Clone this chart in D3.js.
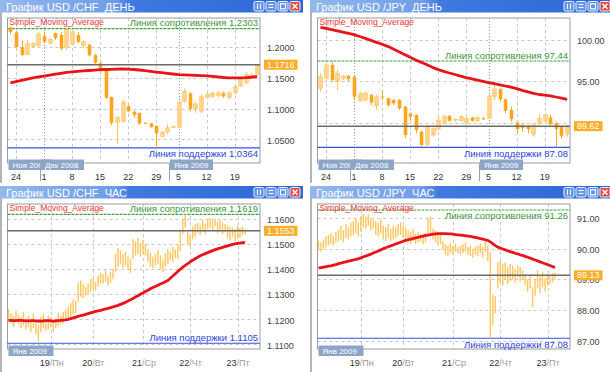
<!DOCTYPE html>
<html>
<head>
<meta charset="utf-8">
<script src="https://cdn.jsdelivr.net/npm/d3@7"></script>
<style>
  body { margin: 0; background: #fff; }
  svg { display: block; font-family: "Liberation Sans", Arial, sans-serif; }
</style>
</head>
<body>
<svg id="chart" width="610" height="372"></svg>
<script>
// ---- USD/CHF daily ----
const chfDayOpen  = [1.2320,1.2240,1.2000,1.1880,1.2010,1.2030,1.2180,1.2060,1.2230,1.2200,1.1990,1.2050,1.2200,1.2030,1.2040,1.1870,1.1740,1.1620,1.1190,1.0780,1.0790,1.1040,1.0950,1.0930,1.0770,1.0760,1.0720,1.0550,1.0620,1.0700,1.0700,1.1120,1.1250,1.1000,1.0960,1.1180,1.1200,1.1210,1.1260,1.1180,1.1260,1.1370,1.1420,1.1520,1.1560];
const chfDayHigh  = [1.2335,1.2250,1.2110,1.2115,1.2085,1.2250,1.2250,1.2150,1.2240,1.2250,1.2310,1.2280,1.2250,1.2110,1.2060,1.1890,1.1760,1.1630,1.1200,1.0880,1.1150,1.1060,1.0970,1.0940,1.0780,1.0770,1.0730,1.0640,1.0750,1.0720,1.1130,1.1330,1.1270,1.1110,1.1230,1.1260,1.1280,1.1290,1.1280,1.1280,1.1380,1.1500,1.1600,1.1580,1.1730];
const chfDayLow   = [1.2210,1.1990,1.1860,1.1870,1.2000,1.2000,1.2060,1.2040,1.2120,1.1950,1.1960,1.2030,1.2070,1.1980,1.1850,1.1730,1.1590,1.1160,1.0730,1.0430,1.0770,1.0940,1.0850,1.0740,1.0750,1.0690,1.0364,1.0530,1.0580,1.0690,1.0690,1.1100,1.0960,1.0930,1.0930,1.1160,1.1180,1.1190,1.1180,1.1150,1.1230,1.1350,1.1400,1.1500,1.1540];
const chfDayClose = [1.2250,1.2005,1.1875,1.2060,1.2065,1.2215,1.2090,1.2130,1.2150,1.1980,1.2290,1.2250,1.2090,1.2090,1.1870,1.1750,1.1620,1.1180,1.0770,1.0855,1.1110,1.0960,1.0900,1.0760,1.0760,1.0700,1.0600,1.0620,1.0690,1.0710,1.1100,1.1280,1.1000,1.1080,1.1200,1.1240,1.1250,1.1260,1.1200,1.1260,1.1360,1.1480,1.1560,1.1550,1.1716];
const chfDayMA    = [1.1420,1.1440,1.1460,1.1482,1.1502,1.1517,1.1532,1.1547,1.1562,1.1577,1.1592,1.1600,1.1608,1.1615,1.1622,1.1629,1.1636,1.1638,1.1641,1.1644,1.1647,1.1645,1.1638,1.1630,1.1620,1.1608,1.1597,1.1586,1.1575,1.1565,1.1555,1.1551,1.1547,1.1543,1.1538,1.1534,1.1527,1.1518,1.1508,1.1503,1.1502,1.1502,1.1505,1.1512,1.1523];
const chfDayTicks = [1.05, 1.10, 1.15, 1.20];

// ---- USD/JPY daily ----
const jpyDayOpen  = [94.16,95.36,96.96,94.96,95.36,95.66,95.56,92.66,92.76,93.36,92.06,93.16,92.96,92.76,92.76,91.96,91.16,90.96,88.96,87.46,88.56,89.26,89.96,90.86,90.36,90.26,90.06,90.66,90.26,90.56,90.56,93.16,94.06,92.86,91.56,90.06,89.76,89.66,88.66,89.96,90.16,90.66,89.96,89.56,88.66];
const jpyDayHigh  = [95.96,97.16,97.36,96.36,95.76,95.76,95.66,93.76,93.76,93.46,93.36,93.96,93.06,92.86,92.86,92.06,91.26,91.06,89.06,89.76,89.76,90.76,90.96,90.96,90.56,90.96,90.76,90.76,90.76,90.76,93.56,94.56,94.16,92.96,91.96,90.16,89.96,89.76,89.96,90.96,91.16,90.96,90.16,89.56,89.76];
const jpyDayLow   = [93.76,94.96,94.96,93.96,95.16,94.96,92.76,92.56,92.56,92.16,91.56,92.76,91.96,92.16,91.56,88.16,90.36,88.76,87.08,87.08,88.36,89.16,89.86,90.16,90.16,90.16,89.76,90.16,90.16,90.36,90.46,92.76,92.56,91.16,90.16,88.76,88.96,88.76,88.36,89.76,89.96,89.56,87.16,88.16,88.36];
const jpyDayClose = [95.56,96.96,95.16,95.96,95.66,95.26,93.16,93.56,93.56,92.46,93.16,93.06,92.16,92.36,91.76,88.56,90.76,89.16,87.36,89.56,89.36,90.36,90.76,90.26,90.46,90.76,90.56,90.26,90.66,90.46,93.26,94.06,92.86,91.46,90.46,89.26,89.36,89.26,89.76,90.56,90.96,89.86,89.26,88.46,89.62];
const jpyDayMA    = [101.48,101.35,101.20,101.05,100.90,100.75,100.60,100.38,100.15,99.92,99.68,99.45,99.20,98.88,98.55,98.22,97.88,97.56,97.28,96.98,96.68,96.40,96.20,96.00,95.82,95.62,95.44,95.30,95.15,95.00,94.85,94.72,94.58,94.44,94.30,94.12,93.92,93.74,93.55,93.42,93.35,93.25,93.12,92.98,92.84];
const jpyDayTicks = [90, 95, 100];

// ---- USD/CHF hourly ----
const chfHourLow  = [1.1195,1.1185,1.1170,1.1190,1.1180,1.1165,1.1175,1.1160,1.1170,1.1150,1.1165,1.1140,1.1111,1.1150,1.1165,1.1155,1.1160,1.1170,1.1150,1.1165,1.1175,1.1180,1.1185,1.1195,1.1205,1.1210,1.1220,1.1225,1.1270,1.1290,1.1285,1.1295,1.1300,1.1310,1.1320,1.1315,1.1330,1.1340,1.1345,1.1350,1.1335,1.1345,1.1360,1.1390,1.1410,1.1420,1.1405,1.1415,1.1400,1.1385,1.1440,1.1455,1.1460,1.1450,1.1465,1.1455,1.1430,1.1410,1.1405,1.1415,1.1420,1.1400,1.1388,1.1410,1.1420,1.1435,1.1430,1.1445,1.1440,1.1470,1.1540,1.1565,1.1500,1.1490,1.1520,1.1530,1.1545,1.1535,1.1550,1.1540,1.1560,1.1565,1.1555,1.1570,1.1545,1.1555,1.1540,1.1550,1.1525,1.1515,1.1530,1.1510,1.1520,1.1525,1.1535,1.1540];
const chfHourHigh = [1.1240,1.1225,1.1215,1.1235,1.1220,1.1210,1.1230,1.1205,1.1215,1.1200,1.1225,1.1195,1.1180,1.1210,1.1220,1.1200,1.1215,1.1210,1.1195,1.1205,1.1225,1.1215,1.1230,1.1240,1.1250,1.1265,1.1280,1.1275,1.1345,1.1355,1.1340,1.1330,1.1345,1.1360,1.1365,1.1350,1.1375,1.1385,1.1380,1.1395,1.1375,1.1390,1.1400,1.1460,1.1485,1.1475,1.1460,1.1470,1.1450,1.1440,1.1520,1.1510,1.1525,1.1505,1.1515,1.1500,1.1480,1.1465,1.1450,1.1460,1.1475,1.1455,1.1440,1.1465,1.1480,1.1470,1.1490,1.1480,1.1500,1.1555,1.1600,1.1619,1.1550,1.1540,1.1570,1.1580,1.1585,1.1575,1.1595,1.1580,1.1600,1.1605,1.1595,1.1600,1.1590,1.1595,1.1585,1.1580,1.1575,1.1570,1.1565,1.1560,1.1575,1.1565,1.1570,1.1560];
const chfHourMA   = [1.1196,1.1196,1.1195,1.1195,1.1196,1.1196,1.1195,1.1194,1.1194,1.1195,1.1195,1.1194,1.1193,1.1193,1.1194,1.1195,1.1195,1.1194,1.1193,1.1194,1.1195,1.1196,1.1197,1.1198,1.1200,1.1203,1.1206,1.1209,1.1212,1.1215,1.1217,1.1220,1.1223,1.1226,1.1229,1.1232,1.1234,1.1236,1.1239,1.1242,1.1244,1.1247,1.1250,1.1253,1.1256,1.1260,1.1264,1.1268,1.1273,1.1278,1.1283,1.1289,1.1294,1.1300,1.1305,1.1311,1.1316,1.1322,1.1327,1.1331,1.1336,1.1341,1.1345,1.1350,1.1355,1.1364,1.1373,1.1382,1.1391,1.1400,1.1408,1.1415,1.1422,1.1429,1.1436,1.1442,1.1448,1.1454,1.1458,1.1462,1.1466,1.1470,1.1474,1.1478,1.1481,1.1484,1.1487,1.1490,1.1493,1.1496,1.1499,1.1501,1.1503,1.1504,1.1506,1.1507];
const chfHourTicks = [1.11, 1.12, 1.13, 1.14, 1.15, 1.16];

// ---- USD/JPY hourly ----
const jpyHourLow  = [89.95,89.90,90.00,90.05,90.10,90.15,90.10,90.20,90.25,90.30,90.20,90.35,90.30,90.40,90.45,90.50,90.40,90.55,90.70,90.65,90.75,90.60,90.65,90.45,90.40,90.50,90.30,90.25,90.35,90.25,90.30,90.35,90.40,90.45,90.35,90.30,90.20,90.15,90.25,90.15,90.20,90.25,90.15,90.20,90.45,90.50,90.30,90.20,90.10,90.15,89.95,89.80,89.75,89.85,89.80,89.90,89.85,89.80,89.85,89.90,89.80,89.75,89.70,89.80,89.75,89.85,89.70,89.90,89.60,87.08,87.50,87.90,88.70,88.90,88.80,89.00,88.85,88.95,89.00,88.90,89.05,88.95,89.00,88.80,88.60,88.70,88.10,88.45,88.70,88.55,88.75,88.60,88.80,88.85,88.90,89.00];
const jpyHourHigh = [90.25,90.20,90.30,90.40,90.45,90.50,90.40,90.55,90.60,90.75,90.60,90.80,90.70,90.85,90.90,91.00,90.85,91.05,91.14,91.05,91.10,91.00,90.95,90.90,90.85,90.95,90.75,90.70,90.80,90.65,90.75,90.70,90.80,90.85,90.75,90.70,90.60,90.55,90.65,90.50,90.55,90.50,90.45,90.50,91.00,91.05,90.65,90.60,90.50,90.45,90.25,90.15,90.10,90.20,90.10,90.15,90.05,90.10,90.15,90.20,90.05,90.10,90.00,90.05,90.10,90.15,90.05,90.25,90.10,89.90,88.50,88.45,89.55,89.60,89.50,89.55,89.40,89.50,89.45,89.35,89.45,89.40,89.30,89.15,89.00,89.10,88.75,89.00,89.30,89.10,89.25,89.05,89.20,89.15,89.20,89.22];
const jpyHourMA   = [89.37,89.38,89.40,89.41,89.43,89.44,89.46,89.48,89.51,89.53,89.55,89.57,89.59,89.61,89.63,89.65,89.67,89.70,89.73,89.76,89.79,89.82,89.86,89.89,89.92,89.96,90.00,90.03,90.06,90.09,90.12,90.15,90.18,90.21,90.24,90.27,90.29,90.31,90.33,90.35,90.37,90.39,90.41,90.43,90.44,90.46,90.47,90.48,90.49,90.49,90.49,90.49,90.48,90.48,90.47,90.46,90.45,90.44,90.43,90.42,90.41,90.40,90.38,90.37,90.35,90.33,90.31,90.29,90.27,90.22,90.16,90.10,90.05,90.02,89.99,89.96,89.93,89.90,89.88,89.85,89.83,89.80,89.78,89.75,89.72,89.69,89.66,89.63,89.60,89.57,89.54,89.51,89.48,89.45,89.42,89.38];
const jpyHourTicks = [87, 88, 89, 90, 91];

// ---- time axis labels ----
const dayTickLabels = ["24", "1", "8", "15", "22", "29", "5", "12", "19"];
const dayTickIdx = [1, 6, 11, 16, 21, 26, 30, 35, 40];
const monthStartIdx = [6, 30];
const monthBoxLabels = ["Ноя 2008", "Дек 2008", "Янв 2009"];
const monthBoxIdx = [0, 6, 29];
const hourTickIdx = [17, 34, 54, 73, 92];
const hourTickDay = ["19", "20", "21", "22", "23"];
const hourTickWeekday = ["Пн", "Вт", "Ср", "Чт", "Пт"];

const panels = [
  {x: 0, y: 0, w: 303, h: 183, title: "График USD /CHF  ДЕНЬ", kind: "day",
   open: chfDayOpen, high: chfDayHigh, low: chfDayLow, close: chfDayClose, ma: chfDayMA,
   domain: [1.0117, 1.2476], ticks: chfDayTicks, fmt: ".4f", resist: 1.2303, support: 1.0364, last: 1.1716},
  {x: 310, y: 0, w: 300, h: 183, title: "График USD /JPY  ДЕНЬ", kind: "day",
   open: jpyDayOpen, high: jpyDayHigh, low: jpyDayLow, close: jpyDayClose, ma: jpyDayMA,
   domain: [85.2, 102.6], ticks: jpyDayTicks, fmt: ".2f", resist: 97.44, support: 87.08, last: 89.62},
  {x: 0, y: 186, w: 303, h: 186, title: "График USD /CHF  ЧАС", kind: "hour",
   high: chfHourHigh, low: chfHourLow, ma: chfHourMA,
   domain: [1.1082, 1.1660], ticks: chfHourTicks, fmt: ".4f", resist: 1.1619, support: 1.1105, last: 1.1553},
  {x: 310, y: 186, w: 300, h: 186, title: "График USD /JPY  ЧАС", kind: "hour",
   high: jpyHourHigh, low: jpyHourLow, ma: jpyHourMA,
   domain: [86.73, 91.455], ticks: jpyHourTicks, fmt: ".2f", resist: 91.26, support: 87.08, last: 89.13}
];

const F = {left: 7.5, right: 260, top: 18, bottom: 163};
const svg = d3.select("#chart");

// title bar gradient
const grad = svg.append("defs").append("linearGradient").attr("id", "tbar");
[[0, "#93b8ee"], [0.38, "#6f9ce8"], [0.43, "#4079df"], [1, "#2d67d6"]].forEach(s =>
  grad.append("stop").attr("offset", s[0]).attr("stop-color", s[1]));

function drawPanel(p) {
  const g = svg.append("g").attr("transform", `translate(${p.x},${p.y})`);
  g.append("rect").attr("width", p.w).attr("height", p.h).attr("fill", "#fff");
  g.append("line").attr("x1", 1).attr("x2", 1).attr("y1", 12).attr("y2", p.h)
    .attr("stroke", "#b4b4b4").attr("stroke-width", 2);

  // title bar + buttons
  g.append("rect").attr("width", p.w).attr("height", 12.5).attr("fill", "url(#tbar)");
  g.append("text").attr("x", 6).attr("y", 10.5).attr("fill", "#fff").attr("font-size", 11)
    .style("white-space", "pre").text(p.title);
  [254, 266, 278, 290].forEach((bx, k) => {
    g.append("rect").attr("x", bx).attr("y", 1.5).attr("width", 10).attr("height", 9.5).attr("rx", 1.5)
      .attr("fill", k === 3 ? "#e2483a" : "#5b8fe9").attr("stroke", "#eef4ff").attr("stroke-width", 1);
    const ic = g.append("g").attr("stroke", "#fff").attr("stroke-width", 1.2).attr("fill", "none");
    if (k === 0) { ic.append("line").attr("x1", bx + 3.5).attr("x2", bx + 3.5).attr("y1", 3.5).attr("y2", 9); ic.append("line").attr("x1", bx + 6.5).attr("x2", bx + 6.5).attr("y1", 3.5).attr("y2", 9); }
    if (k === 1) { ic.append("line").attr("x1", bx + 2.5).attr("x2", bx + 7.5).attr("y1", 4.5).attr("y2", 4.5); ic.append("line").attr("x1", bx + 2.5).attr("x2", bx + 7.5).attr("y1", 7.5).attr("y2", 7.5); }
    if (k === 2) { ic.append("rect").attr("x", bx + 2.5).attr("y", 3.8).attr("width", 5).attr("height", 5); }
    if (k === 3) { ic.append("path").attr("d", `M${bx + 2.5},3.8L${bx + 7.5},8.8M${bx + 7.5},3.8L${bx + 2.5},8.8`).attr("stroke-width", 1.6); }
  });

  const y = d3.scaleLinear().domain(p.domain).range([F.bottom, F.top]);
  const n = p.high.length;
  let xc, bw;
  if (p.kind === "day") {
    const xb = d3.scaleBand().domain(d3.range(n)).range([F.left, F.right]).paddingInner(0.36).paddingOuter(0.2);
    bw = xb.bandwidth();
    xc = i => xb(i) + bw / 2;
  } else {
    xc = d3.scaleLinear().domain([0, n - 1]).range([F.left + 1, 245]);
    bw = 1.4;
  }

  // grid
  g.append("g").selectAll("line").data(p.ticks).join("line")
    .attr("x1", F.left).attr("x2", F.right).attr("y1", d => Math.round(y(d)) + 0.5).attr("y2", d => Math.round(y(d)) + 0.5)
    .attr("stroke", "#c8c8c8").attr("stroke-dasharray", "3,3");
  const vIdx = p.kind === "day" ? dayTickIdx : hourTickIdx;
  g.append("g").selectAll("line").data(vIdx).join("line")
    .attr("x1", d => Math.round(xc(d)) + 0.5).attr("x2", d => Math.round(xc(d)) + 0.5)
    .attr("y1", F.top).attr("y2", F.bottom)
    .attr("stroke", d => p.kind === "day" && monthStartIdx.includes(d) ? "#8d93ab" : "#c8c8c8")
    .attr("stroke-dasharray", d => p.kind === "day" && monthStartIdx.includes(d) ? "1,2" : "3,3");

  // frame
  g.append("rect").attr("x", F.left).attr("y", F.top).attr("width", F.right - F.left).attr("height", F.bottom - F.top)
    .attr("fill", "none").attr("stroke", "#9c9c9c");

  // support / resistance
  const fmt = d3.format(p.fmt);
  const yr = y(p.resist), ys = y(p.support);
  g.append("line").attr("x1", F.left).attr("x2", F.right).attr("y1", yr).attr("y2", yr)
    .attr("stroke", "#3fa23f").attr("stroke-width", 1.2).attr("stroke-dasharray", "3,1");
  g.append("line").attr("x1", F.left).attr("x2", F.right).attr("y1", ys).attr("y2", ys)
    .attr("stroke", "#3553e0").attr("stroke-width", 1.2);
  g.append("text").attr("x", F.right - 2).attr("y", yr - 9 < F.top ? yr + 9.5 : yr - 2.5)
    .attr("text-anchor", "end").attr("font-size", 9.5).attr("fill", "#3c963c")
    .text("Линия сопротивления " + fmt(p.resist));
  g.append("text").attr("x", F.right - 2).attr("y", ys + 10.5 > F.bottom ? ys - 2.5 : ys + 9.5)
    .attr("text-anchor", "end").attr("font-size", 9.5).attr("fill", "#2a44dc")
    .text("Линия поддержки " + fmt(p.support));

  // price bars
  const idx = d3.range(n);
  if (p.kind === "day") {
    const up = i => p.close[i] >= p.open[i];
    g.append("g").selectAll("line").data(idx).join("line")
      .attr("x1", i => Math.round(xc(i)) + 0.5).attr("x2", i => Math.round(xc(i)) + 0.5)
      .attr("y1", i => y(p.high[i])).attr("y2", i => y(p.low[i]))
      .attr("stroke", i => up(i) ? "#ffc65c" : "#ffa51e");
    g.append("g").selectAll("rect").data(idx).join("rect")
      .attr("x", i => Math.round(xc(i)) + 0.5 - bw / 2).attr("width", bw)
      .attr("y", i => y(Math.max(p.open[i], p.close[i])))
      .attr("height", i => Math.max(1, Math.abs(y(p.open[i]) - y(p.close[i]))))
      .attr("fill", i => up(i) ? "#ffd58e" : "#ffa51e")
      .attr("stroke", i => up(i) ? "#ffc262" : "none").attr("stroke-width", 0.6);
  } else {
    g.append("g").selectAll("rect").data(idx).join("rect")
      .attr("x", i => xc(i) - bw / 2).attr("width", bw)
      .attr("y", i => y(p.high[i])).attr("height", i => Math.max(1, y(p.low[i]) - y(p.high[i])))
      .attr("fill", "#ffc65e");
  }

  // current price line
  const yl = y(p.last);
  g.append("line").attr("x1", F.left).attr("x2", F.right).attr("y1", yl).attr("y2", yl)
    .attr("stroke", "#6a6a6a").attr("stroke-width", 1.5);

  // moving average
  g.append("path").datum(p.ma)
    .attr("d", d3.line().x((d, i) => xc(i)).y(d => y(d)))
    .attr("fill", "none").attr("stroke", "#e8141c").attr("stroke-width", 2.8).attr("stroke-linejoin", "round");

  // y axis labels (the one hidden under the current price box is left out)
  g.append("g").selectAll("text").data(p.ticks.filter(d => Math.abs(y(d) - yl) > 3.5)).join("text")
    .attr("x", 267).attr("y", d => y(d) + 1).attr("dy", "0.35em")
    .attr("font-size", 9).attr("fill", "#444").text(d => fmt(d));
  const lt = g.append("text").attr("x", F.right + 7).attr("y", yl).attr("dy", "0.35em")
    .attr("font-size", 9).attr("fill", "#fff").text(fmt(p.last));
  const lw = lt.node().getComputedTextLength();
  g.insert("rect", () => lt.node()).attr("x", F.right + 4).attr("y", yl - 5).attr("width", lw + 6).attr("height", 10)
    .attr("fill", "#ffac26");

  // legend
  g.append("text").attr("x", F.left + 2).attr("y", 25).attr("font-size", 8.5).attr("fill", "#ee3434")
    .text("Simple_Moving_Average");

  // time axis
  if (p.kind === "day") {
    g.append("g").selectAll("text").data(dayTickIdx).join("text")
      .attr("x", i => xc(i)).attr("y", 179.5).attr("text-anchor", "middle")
      .attr("font-size", 9).attr("fill", "#333").text((d, k) => dayTickLabels[k]);
    monthBoxLabels.forEach((m, k) => {
      const bx = k === 0 ? F.left + 1 : Math.round(xc(monthBoxIdx[k]) - bw / 2 - 1.5);
      g.append("rect").attr("x", bx).attr("y", 159.5).attr("width", 43).attr("height", 10.5).attr("fill", "#8da5c7");
      g.append("text").attr("x", bx + 4).attr("y", 168).attr("font-size", 8).attr("fill", "#fff").text(m);
      if (k > 0) g.append("line").attr("x1", bx - 0.5).attr("x2", bx - 0.5).attr("y1", 163).attr("y2", 181).attr("stroke", "#98a2b8");
    });
  } else {
    hourTickIdx.forEach((d, k) => {
      const tx = xc(d) - 1;
      g.append("text").attr("x", tx).attr("y", 179.5).attr("text-anchor", "end")
        .attr("font-size", 9).attr("fill", "#333").text(hourTickDay[k]);
      g.append("text").attr("x", tx).attr("y", 179.5)
        .attr("font-size", 9).attr("fill", "#9a9a9a").text("/" + hourTickWeekday[k]);
    });
    g.append("rect").attr("x", F.left + 1).attr("y", 159.5).attr("width", 45).attr("height", 10.5).attr("fill", "#8da5c7");
    g.append("text").attr("x", F.left + 5).attr("y", 168).attr("font-size", 8).attr("fill", "#fff").text(monthBoxLabels[2]);
  }
}

panels.forEach(drawPanel);
</script>
</body>
</html>
